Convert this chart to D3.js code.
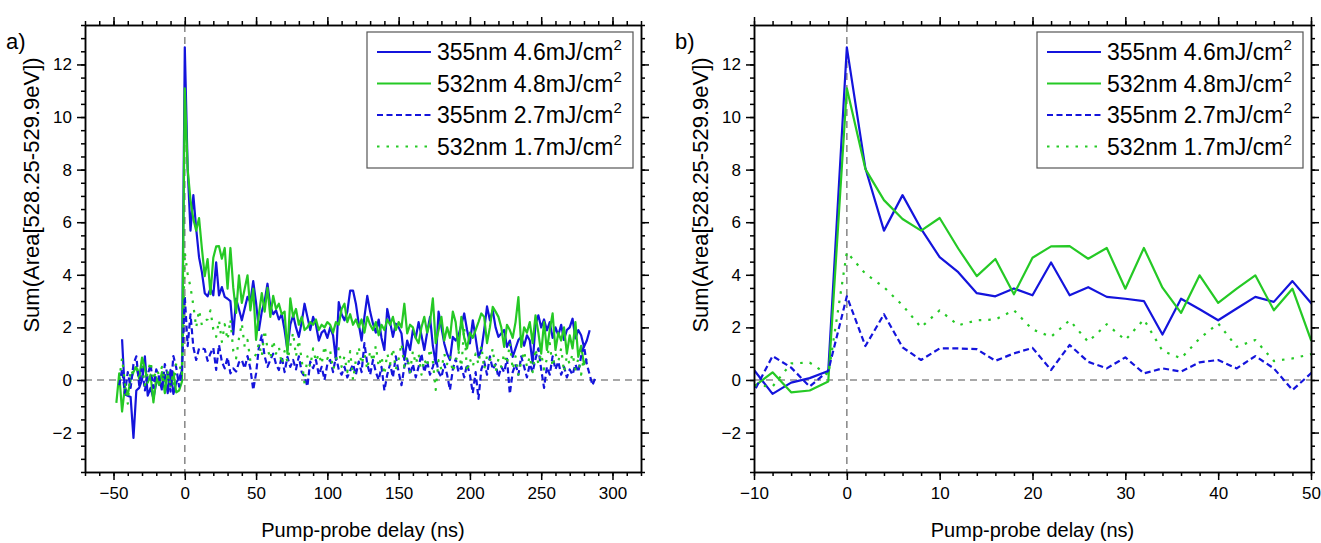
<!DOCTYPE html>
<html lang="en">
<head>
<meta charset="UTF-8">
<script src="https://cdnjs.cloudflare.com/ajax/libs/d3/7.8.5/d3.min.js"></script>
<style>
body { margin: 0; background: #fff; }
text { font-family: Arial, "Liberation Sans", sans-serif; fill: #000; }
.axis path, .axis line { stroke: #000; stroke-width: 1.5; }
.axis text { font-size: 17px; }
</style>
</head>
<body>
<svg id="chart" width="1321" height="543"></svg>
<script>
// sampling step of all four traces (ns)
const STEP = 2;

// 355nm 4.6mJ/cm2, solid blue
const blueHiStart = -44;
const blueHi = [1.55, -0.55, -0.6, -0.65, -2.2, -0.4, -0.3, 0.0, 0.9, -0.6, -0.3, -0.7, -0.1, 0.1, -0.3, 0.2, -0.5,
  0.38, -0.53, -0.1, 0.07, 0.34,
  12.65, 8.05, 5.68, 7.03, 5.75, 4.67, 4.1, 3.3, 3.18, 3.48, 3.22, 4.47, 3.22, 3.53, 3.16, 3.09, 3.0, 1.73, 3.09, 2.69,
  2.27, 2.72, 3.16, 2.97, 3.76, 2.93,
  1.9, 2.6, 3.0, 3.66, 2.8, 2.5, 2.65, 2.3, 2.5, 1.9, 1.14, 2.1, 2.46, 2.0, 1.64, 2.2, 2.9, 2.4, 1.9, 2.4,
  2.1, 1.5, 1.8, 1.9, 1.6, 2.0, 1.7, 0.76, 2.96, 2.5, 2.27, 2.6, 3.4, 3.4, 2.9, 2.14, 1.5, 2.4, 3.2, 2.6,
  2.14, 1.8, 2.3, 1.6, 1.14,
  2.7, 2.2, 1.64, 2.14, 2.0, 1.77, 0.76, 1.5, 1.14, 1.9, 1.6, 2.2, 1.7, 1.14, 1.8, 2.4, 1.3, 0.63, 2.6, 2.0,
  1.39, 1.0, 0.76, 1.64, 1.5, 1.7, 2.1, 2.53, 1.9, 1.39, 2.27, 1.6, 0.88, 1.14, 1.9, 2.8, 2.27, 2.65, 2.0, 1.64,
  1.77, 1.9, 1.26, 1.5, 0.88, 1.2, 1.52, 1.64, 1.3, 1.7, 1.5, 0.63, 2.1, 2.46, 2.0, 2.3, 1.89, 2.2, 1.6, 2.0,
  1.7, 2.1, 1.52, 1.9, 2.0, 2.33, 1.58, 1.9, 1.7, 1.26, 1.5, 1.89];

// 532nm 4.8mJ/cm2, solid green
const greenHiStart = -48;
const greenHi = [-0.87, 0.25, -1.2, -0.25, -0.55, 0.0, 0.3, 0.5, 0.05, 0.85, 0.45, -0.1, 0.2, -0.85, 0.1, -0.2, 0.3, -0.5, 0.25,
  -0.25, 0.29, -0.47, -0.4, -0.06,
  11.09, 8.02, 6.84, 6.12, 5.68, 6.16, 5.0, 3.95, 4.6, 3.26, 4.65, 5.08, 5.09, 4.61, 5.02, 3.47, 5.02, 3.51, 2.55, 3.98,
  2.93, 3.47, 3.98, 2.65, 3.47, 1.52,
  2.5, 3.3, 2.6, 3.5, 2.4, 3.2, 2.7, 2.9, 2.5, 2.6, 1.0, 3.1, 2.4, 2.7, 2.1, 2.4, 1.9, 2.0, 2.2, 2.1,
  2.3, 1.9, 2.1, 2.0, 2.2, 2.1, 1.8, 2.2, 2.1, 2.7, 2.9, 2.2, 2.5, 2.1, 2.3, 2.0, 2.3, 1.8, 2.4, 2.1,
  1.9, 2.2, 1.7, 2.1, 1.9,
  2.3, 2.1, 2.4, 1.9, 2.2, 2.0, 2.9, 1.77, 2.1, 2.0, 1.6, 1.4, 2.0, 2.4, 1.8, 2.2, 3.1, 1.4, 1.9, 2.4,
  1.5, 2.0, 1.6, 2.6, 2.2, 1.14, 2.4, 1.6, 1.2, 1.8, 1.6, 1.9, 2.2, 2.53, 2.4, 1.4, 2.0, 2.78, 2.6, 2.4,
  2.0, 1.26, 2.1, 1.9, 1.6, 2.2, 3.15, 1.26, 2.0, 1.8, 2.2, 1.4, 2.46, 1.8, 1.0, 2.2, 1.14, 1.9, 2.53, 1.14,
  1.8, 1.5, 2.0, 1.0, 1.7, 1.2, 2.2, 0.88, 1.3, 0.6, 0.8];

// 355nm 2.7mJ/cm2, dashed blue
const blueLoStart = -46;
const blueLo = [-0.2, 0.4, -0.5, 0.3, -0.3, 0.6, 0.9, -0.2, 0.5, -0.4, 0.2, 0.6, -0.3, 0.4, 0.1, -0.4, 0.6, 0.2,
  -0.44, 0.91, 0.47, -0.25, 0.35, 3.18, 1.29, 2.5, 1.24, 0.76, 1.2, 1.2, 1.17, 0.73, 1.01, 1.22, 0.38, 1.33, 0.69, 0.44,
  0.86, 0.25, 0.44, 0.32, 0.67, 0.76, 0.44, 0.91, 0.44, -0.38, 0.25,
  1.26, 1.7, 0.9, 0.5, 0.76, 1.0, 0.6, 0.38, 0.9, 0.3, 0.88, 0.5, 0.76, 0.4, 0.9, 0.3, 0.13, -0.25, 0.7, 0.45,
  0.76, 0.2, 0.5, 0.0, 0.6, 0.76, 0.3, 0.9, 0.4, 0.2, 0.5, 0.1, 0.35, 0.6, 0.2, 0.7, 0.3, 1.4, 0.6, 0.2,
  0.76, 0.3, 0.0, 0.5, -0.4, 0.2, 0.6, 0.1, 0.9, 0.3, -0.2, 0.5, 0.8, 0.2, 0.6, 0.1, 0.5, 1.0, 0.3, 0.7,
  0.2, 0.5, 0.9, 0.3, 0.1, 0.6, 0.2, -0.38, 0.4, 0.8, 0.3, 0.5, 0.1, 0.6, 0.2, -0.5, 0.3, -0.72, 0.4, 0.7,
  0.2, 0.9, 0.4, 0.6, 0.1, 0.5, 0.3, 0.8, -0.53, 0.3, 0.6, 0.2, 0.9, 0.5, 0.1, 0.6, 0.3, 0.8, 1.2, 0.4,
  -0.3, 0.5, 0.2, 0.9, 0.4, 0.7, 0.2, 0.5, 0.1, 0.4, 0.2, 0.6, 0.3, 0.9, 1.3, 0.6, 0.2, -0.2, 0.1];

// 532nm 1.7mJ/cm2, dotted green
const greenLoStart = -46;
const greenLo = [0.0, 0.83, -0.1, -0.9, 0.4, 0.2, 0.6, 0.1, 0.5, -0.2, 0.3, 0.7, 0.0, 0.4, 0.2, 0.5, -0.1, 0.3,
  -0.2, -0.25, 0.63, 0.66, 0.19, 4.86, 4.04, 3.53, 2.84, 2.0, 2.65, 2.08, 2.27, 2.3, 2.65, 1.92, 1.64, 2.27, 1.45, 2.12,
  1.52, 2.3, 1.11, 0.82, 1.58, 2.15, 1.26, 1.52, 0.72, 0.82, 0.98,
  1.4, 0.9, 1.9, 1.2, 0.8, 1.5, 1.0, 1.26, 0.6, 1.1, 0.7, 1.3, 1.8, 0.9, 1.52, 0.76, -0.13, 0.9, 0.5, 1.2,
  0.7, 1.0, 0.6, 1.3, 0.8, 1.1, 0.4, 0.76, 1.2, 0.5, 0.9, 0.3, 1.1, 0.0, 0.76, 1.26, 0.6, 1.0, 0.4, 1.1,
  0.7, 1.3, 0.5, 0.9, 0.2, 1.0, 0.6, 1.2, 0.4, 0.8, 1.39, 0.5, 0.9, 0.3, 1.1, 0.6, 1.0, 0.2, 0.8, 0.5,
  1.2, 0.7, -0.38, 0.76, 0.4, 1.0, 0.6, 0.9, 0.3, 0.7, 1.1, 0.5, 2.0, 0.3, 0.8, 0.5, 1.0, 0.6, 1.3, 0.4,
  0.9, 0.7, 1.2, 0.3, 0.8, 0.5, 1.0, 0.6, 1.4, 0.4, 0.9, 0.2, 0.7, 1.1, 0.5, 0.9, 0.3, 1.2, 0.6, 1.0,
  0.4, 0.8, 1.4, 0.5, 1.0, 0.7, 1.2, 0.3, 0.9, 0.6, 1.0, 0.4, 0.8, 0.2, 0.9];

const legendNames = ["355nm 4.6mJ/cm", "532nm 4.8mJ/cm", "355nm 2.7mJ/cm", "532nm 1.7mJ/cm"];
const panelLabels = ["a)", "b)"];
const xTitle = "Pump-probe delay (ns)";
const yTitle = "Sum(Area[528.25-529.9eV])";
const xTicksA = [-50, 0, 50, 100, 150, 200, 250, 300];
const xTicksB = [-10, 0, 10, 20, 30, 40, 50];
const yTicks = [-2, 0, 2, 4, 6, 8, 10, 12];

const BLUE = "#1414dc";
const GREEN = "#25c925";

const series = [
  { name: legendNames[0], start: blueHiStart, values: blueHi, color: BLUE, dash: null },
  { name: legendNames[1], start: greenHiStart, values: greenHi, color: GREEN, dash: null },
  { name: legendNames[2], start: blueLoStart, values: blueLo, color: BLUE, dash: "6,3.5" },
  { name: legendNames[3], start: greenLoStart, values: greenLo, color: GREEN, dash: "2.5,7" }
];

const svg = d3.select("#chart");

function drawPanel(p) {
  const x = d3.scaleLinear().domain(p.xDomain).range([p.left, p.right]);
  const y = d3.scaleLinear().domain([-3.5, 13.5]).range([472, 25]);
  const g = svg.append("g");

  g.append("clipPath").attr("id", "clip" + p.id)
    .append("rect").attr("x", p.left).attr("y", 25).attr("width", p.right - p.left).attr("height", 447);

  // zero reference lines
  g.append("line").attr("x1", p.left).attr("x2", p.right).attr("y1", y(0)).attr("y2", y(0))
    .attr("stroke", "#8c8c8c").attr("stroke-width", 1.6).attr("stroke-dasharray", "7,5");
  g.append("line").attr("x1", x(0)).attr("x2", x(0)).attr("y1", 25).attr("y2", 472)
    .attr("stroke", "#8c8c8c").attr("stroke-width", 1.6).attr("stroke-dasharray", "7,5");

  const line = d3.line().x(d => x(d[0])).y(d => y(d[1]));
  const plot = g.append("g").attr("clip-path", "url(#clip" + p.id + ")");
  series.forEach(s => {
    const pts = s.values.map((v, i) => [s.start + i * STEP, v]);
    plot.append("path").datum(pts)
      .attr("d", line)
      .attr("fill", "none")
      .attr("stroke", s.color)
      .attr("stroke-width", 2.2)
      .attr("stroke-linejoin", "round")
      .attr("stroke-dasharray", s.dash);
  });

  // axes on all four sides, ticks outward
  const xMinor = d3.range(p.xDomain[0], p.xDomain[1] + 0.001, p.xMinor);
  const yMinor = d3.range(-3.5, 13.51, 0.5);
  const axes = [
    [d3.axisBottom(x).tickValues(p.xTicks).tickSize(8).tickPadding(7), "translate(0,472)"],
    [d3.axisBottom(x).tickValues(xMinor).tickSize(4).tickFormat(""), "translate(0,472)"],
    [d3.axisTop(x).tickValues(p.xTicks).tickSize(8).tickFormat(""), "translate(0,25)"],
    [d3.axisTop(x).tickValues(xMinor).tickSize(4).tickFormat(""), "translate(0,25)"],
    [d3.axisLeft(y).tickValues(yTicks).tickSize(8).tickPadding(5), "translate(" + p.left + ",0)"],
    [d3.axisLeft(y).tickValues(yMinor).tickSize(4).tickFormat(""), "translate(" + p.left + ",0)"],
    [d3.axisRight(y).tickValues(yTicks).tickSize(8).tickFormat(""), "translate(" + p.right + ",0)"],
    [d3.axisRight(y).tickValues(yMinor).tickSize(4).tickFormat(""), "translate(" + p.right + ",0)"]
  ];
  axes.forEach(a => {
    g.append("g").attr("class", "axis").attr("transform", a[1]).call(a[0].tickSizeOuter(0));
  });
  g.selectAll(".axis text").style("font-family", "Arial, 'Liberation Sans', sans-serif");

  // titles
  g.append("text").attr("x", (p.left + p.right) / 2).attr("y", 537)
    .attr("text-anchor", "middle").style("font-size", "20px").text(xTitle);
  g.append("text").attr("transform", "translate(" + (p.left - 46) + ",195) rotate(-90)")
    .attr("text-anchor", "middle").style("font-size", "22px").text(yTitle);
  g.append("text").attr("x", p.left - 79).attr("y", 49).style("font-size", "22px").text(p.label);

  // legend
  const bw = 266, bx = p.right - 8 - bw, by = 32;
  const lg = g.append("g");
  lg.append("rect").attr("x", bx).attr("y", by).attr("width", bw).attr("height", 136)
    .attr("fill", "#fff").attr("stroke", "#555").attr("stroke-width", 1.2);
  series.forEach((s, i) => {
    const cy = by + 20 + i * 31.5;
    lg.append("line").attr("x1", bx + 10).attr("x2", bx + 64).attr("y1", cy).attr("y2", cy)
      .attr("stroke", s.color).attr("stroke-width", 2.2).attr("stroke-dasharray", s.dash);
    const t = lg.append("text").attr("x", bx + 70).attr("y", cy + 8).style("font-size", "23px");
    t.append("tspan").text(s.name);
    t.append("tspan").attr("dy", -10).style("font-size", "15px").text("2");
  });
}

drawPanel({ id: "a", left: 85, right: 641, xDomain: [-70, 320], xTicks: xTicksA, xMinor: 10, label: panelLabels[0] });
drawPanel({ id: "b", left: 754, right: 1311, xDomain: [-10, 50], xTicks: xTicksB, xMinor: 2, label: panelLabels[1] });
</script>
</body>
</html>
